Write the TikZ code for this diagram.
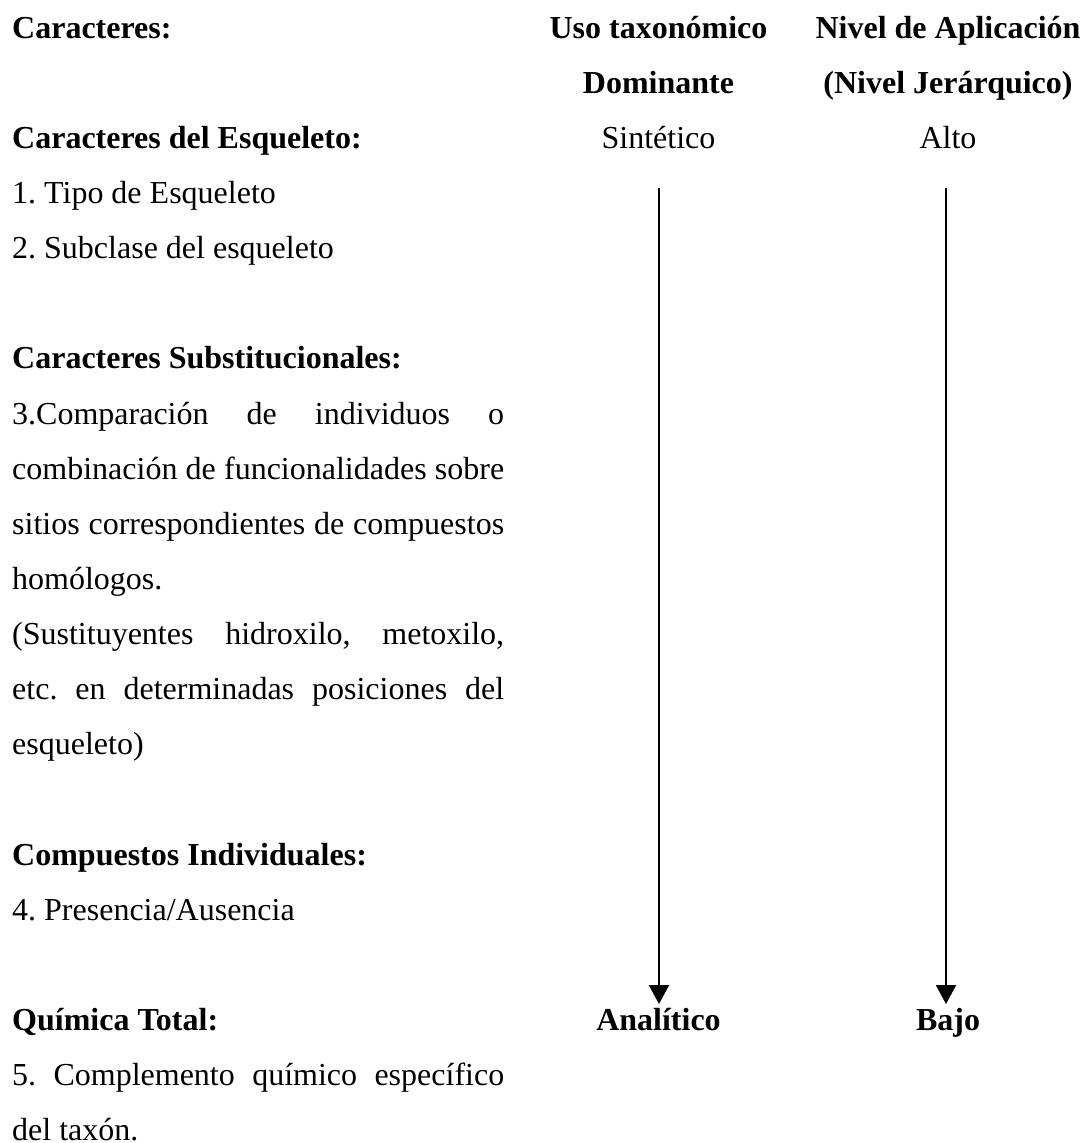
\documentclass[tikz,border=0pt]{standalone}
\usepackage{fontspec}
\setmainfont{Liberation Serif}
\usetikzlibrary{arrows.meta}
\frenchspacing
\begin{document}
\begin{tikzpicture}[x=1pt,y=-1pt,
  txt/.style={inner sep=0pt, anchor=base west, font=\fontsize{32}{38}\selectfont},
  hd/.style={inner sep=0pt, anchor=base west, font=\fontsize{32}{38}\selectfont\bfseries},
  ctr/.style={inner sep=0pt, anchor=base, font=\fontsize{32}{38}\selectfont},
  ctrb/.style={inner sep=0pt, anchor=base, font=\fontsize{32}{38}\selectfont\bfseries},
  arr/.style={line width=2pt, -{Triangle[length=19pt,width=20pt]}}]
\useasboundingbox (0,0) rectangle (1088,1143);
\fill[white] (0,0) rectangle (1088,1143);
\def\W{492pt}
% left column
\node[hd]  (h0)  at (12,38)      {Caracteres:};
\node[hd]  (h1)  at (12,148.3)   {Caracteres del Esqueleto:};
\node[txt] (l3)  at (12,203.45)  {1. Tipo de Esqueleto};
\node[txt] (l4)  at (12,258.6)   {2. Subclase del esqueleto};
\node[hd]  (h2)  at (12,368.9)   {Caracteres Substitucionales:};
\node[txt] (l7)  at (12,424.05)  {\hbox to \W{3.Comparación\hfill de\hfill individuos\hfill o}};
\node[txt] (l8)  at (12,479.2)   {\hbox to \W{combinación\hfill de\hfill funcionalidades\hfill sobre}};
\node[txt] (l9)  at (12,534.35)  {\hbox to \W{sitios\hfill correspondientes\hfill de\hfill compuestos}};
\node[txt] (l10) at (12,589.5)   {homólogos.};
\node[txt] (l11) at (12,644.65)  {\hbox to \W{(Sustituyentes\hfill hidroxilo,\hfill metoxilo,}};
\node[txt] (l12) at (12,699.8)   {\hbox to \W{etc.\hfill en\hfill determinadas\hfill posiciones\hfill del}};
\node[txt] (l13) at (12,754.95)  {esqueleto)};
\node[hd]  (h3)  at (12,865.25)  {Compuestos Individuales:};
\node[txt] (l16) at (12,920.4)   {4. Presencia/Ausencia};
\node[hd]  (h4)  at (12,1030.7)  {Química Total:};
\node[txt] (l19) at (12,1085.85) {\hbox to \W{5.\hfill Complemento\hfill químico\hfill específico}};
\node[txt] (l20) at (12,1140.5)  {del taxón.};
% middle column
\node[ctrb] (u1) at (658.5,38)     {Uso taxonómico};
\node[ctrb] (u2) at (658.5,93.15)  {Dominante};
\node[ctr]  (u3) at (658.5,148.3)  {Sintético};
\node[ctrb] (u4) at (658.5,1030.7) {Analítico};
% right column
\node[ctrb] (n1) at (948,38)     {Nivel de Aplicación};
\node[ctrb] (n2) at (948,93.15)  {(Nivel Jerárquico)};
\node[ctr]  (n3) at (948,148.3)  {Alto};
\node[ctrb] (n4) at (948,1030.7) {Bajo};
% arrows
\coordinate (a1s) at (659,188);
\coordinate (a1e) at (659,1004);
\coordinate (a2s) at (946,188);
\coordinate (a2e) at (946,1004);
\draw[arr] (a1s) -- (a1e);
\draw[arr] (a2s) -- (a2e);
\end{tikzpicture}
\end{document}
